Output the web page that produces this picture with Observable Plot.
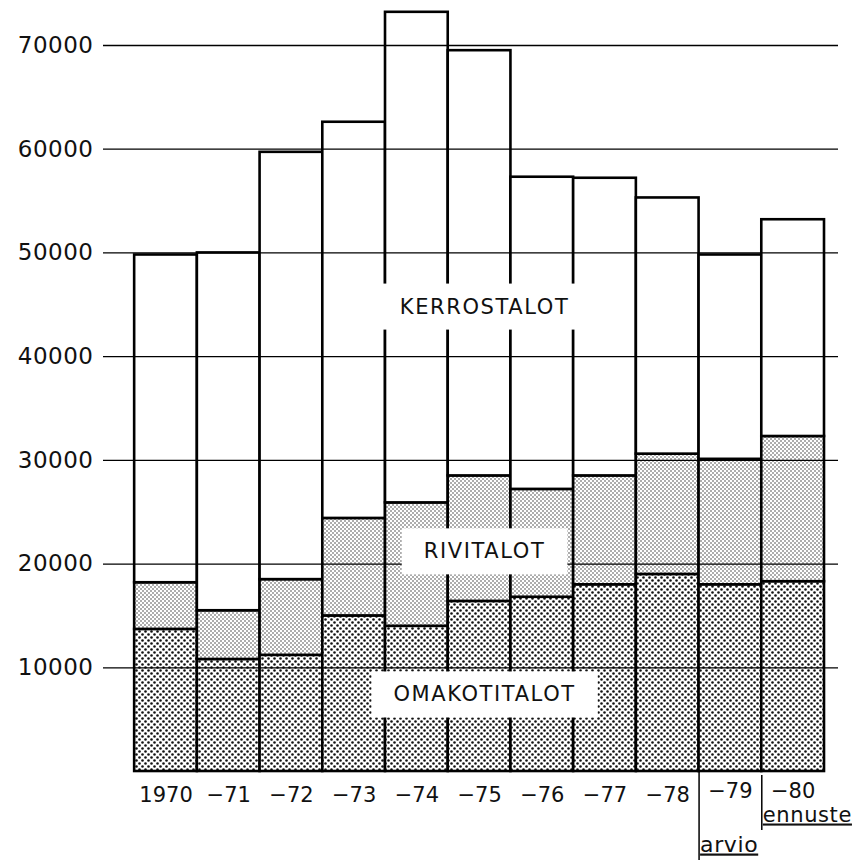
<!DOCTYPE html>
<html>
<head>
<meta charset="utf-8">
<script src="https://cdn.jsdelivr.net/npm/d3@7"></script>
<script src="https://cdn.jsdelivr.net/npm/@observablehq/plot@0.6"></script>
<style>
html, body { margin: 0; padding: 0; background: #fff; }
#chart svg { display: block; }
</style>
</head>
<body>
<div id="chart"></div>
<script>
// ---- data ----
const years = ["1970", "−71", "−72", "−73", "−74", "−75", "−76", "−77", "−78", "−79", "−80"];
const seriesNames = ["OMAKOTITALOT", "RIVITALOT", "KERROSTALOT"];
const omakotitalot = [13700, 10800, 11200, 15000, 14000, 16400, 16800, 18000, 19000, 18000, 18300];
const rivitalot    = [ 4500,  4700,  7300,  9400, 11900, 12100, 10400, 10500, 11600, 12100, 14000];
const kerrostalot  = [31600, 34500, 41200, 38200, 47300, 41000, 30100, 28700, 24700, 19700, 20900];
const yTicks = [10000, 20000, 30000, 40000, 50000, 60000, 70000];
const seriesLabels = [
  {text: "KERROSTALOT", year: "−75", value: 44800},
  {text: "RIVITALOT", year: "−75", value: 21200},
  {text: "OMAKOTITALOT", year: "−75", value: 7400}
];
const notes = [
  {year: "−79", text: "arvio"},
  {year: "−80", text: "ennuste"}
];

// ---- table for the stack ----
const seriesValues = [omakotitalot, rivitalot, kerrostalot];
const rows = [];
years.forEach((yr, i) => {
  seriesNames.forEach((s, j) => rows.push({year: yr, series: s, value: seriesValues[j][i]}));
});

// ---- layout ----
const W = 859, H = 862;
const mL = 103, mR = 21, mT = 45, mB = 91;
const padOuter = 0.36;
const step = (W - mL - mR) / (years.length + 2 * padOuter);
const frameH = H - mT - mB;
const FONT = "DejaVu Sans";

const plot = Plot.plot({
  width: W,
  height: H,
  marginLeft: mL, marginRight: mR, marginTop: mT, marginBottom: mB,
  style: {fontFamily: FONT, background: "white", color: "black", overflow: "visible"},
  x: {domain: years, paddingInner: 0, paddingOuter: padOuter, align: 0.69, round: false, axis: null, label: null},
  y: {domain: [0, 70000], axis: null, label: null},
  color: {domain: seriesNames, range: ["url(#pOma)", "url(#pRiv)", "white"]},
  marks: [
    Plot.barY(rows, Plot.stackY({x: "year", y: "value", z: "series", fill: "series", stroke: "black", strokeWidth: 2.6})),
    Plot.ruleY(yTicks, {stroke: "black", strokeWidth: 1.3}),
    Plot.axisY(yTicks, {tickSize: 0, tickPadding: 10, tickFormat: d3.format("d"), fontSize: 23, fill: "#111", label: null}),
    Plot.axisX({tickSize: 0, tickPadding: 16, fontSize: 21, fill: "#111", label: null}),
    Plot.text(seriesLabels, {x: "year", y: "value", text: "text", fontSize: 21, dx: 5, fill: "#111"}),
    Plot.ruleX([notes[0]], {x: "year", dx: -step / 2, insetTop: frameH, insetBottom: -89, stroke: "black", strokeWidth: 1.5}),
    Plot.ruleX([notes[1]], {x: "year", dx: -step / 2, insetTop: frameH + 4, insetBottom: -59, stroke: "black", strokeWidth: 1.5}),
    Plot.text([notes[0]], {x: "year", text: "text", frameAnchor: "bottom", dy: 80, dx: -step / 2 + 1, textAnchor: "start", fontSize: 22, fill: "#111"}),
    Plot.text([notes[1]], {x: "year", text: "text", frameAnchor: "bottom", dy: 50, dx: -step / 2 + 1, textAnchor: "start", fontSize: 21, fill: "#111"})
  ]
});

document.getElementById("chart").appendChild(plot);

// ---- patterns (dot screens) ----
const svg = d3.select(plot);
const defs = svg.insert("defs", ":first-child");
const pOma = defs.append("pattern").attr("id", "pOma").attr("patternUnits", "userSpaceOnUse")
  .attr("width", 6).attr("height", 6);
pOma.append("rect").attr("width", 6).attr("height", 6).attr("fill", "white");
pOma.append("circle").attr("cx", 1.5).attr("cy", 1.5).attr("r", 1.3).attr("fill", "#111");
pOma.append("circle").attr("cx", 4.5).attr("cy", 4.5).attr("r", 1.3).attr("fill", "#111");
const pRiv = defs.append("pattern").attr("id", "pRiv").attr("patternUnits", "userSpaceOnUse")
  .attr("width", 4).attr("height", 4);
pRiv.append("rect").attr("width", 4).attr("height", 4).attr("fill", "white");
pRiv.append("circle").attr("cx", 1).attr("cy", 1).attr("r", 0.75).attr("fill", "#333");
pRiv.append("circle").attr("cx", 3).attr("cy", 3).attr("r", 0.75).attr("fill", "#333");

// ---- letter spacing, underline, small nudges ----
const labelSet = new Set(seriesLabels.map(d => d.text));
const noteSet = new Set(notes.map(d => d.text));
const noteYears = new Set(notes.map(d => d.year));
const tickSet = new Set(yTicks.map(d => String(d)));
const allText = svg.selectAll("text");
allText.filter(function() { return noteSet.has(this.textContent); })
  .attr("letter-spacing", "0.6px").attr("text-decoration", "underline");
allText.filter(function() { return noteYears.has(this.textContent); })
  .attr("dy", "-4");
allText.filter(function() { return tickSet.has(this.textContent); })
  .attr("letter-spacing", "0.5px");
allText.filter(function() { return labelSet.has(this.textContent); })
  .attr("letter-spacing", "1.6px")
  .each(function() {
    // white box behind each series label
    const b = this.getBBox();
    const padX = 22, padY = 11;
    const r = d3.select(this.parentNode).insert("rect", () => this)
      .attr("x", b.x - padX).attr("y", b.y - padY)
      .attr("width", b.width + 2 * padX).attr("height", b.height + 2 * padY)
      .attr("fill", "white");
    const t = this.getAttribute("transform");
    if (t) r.attr("transform", t);
  });
</script>
</body>
</html>
